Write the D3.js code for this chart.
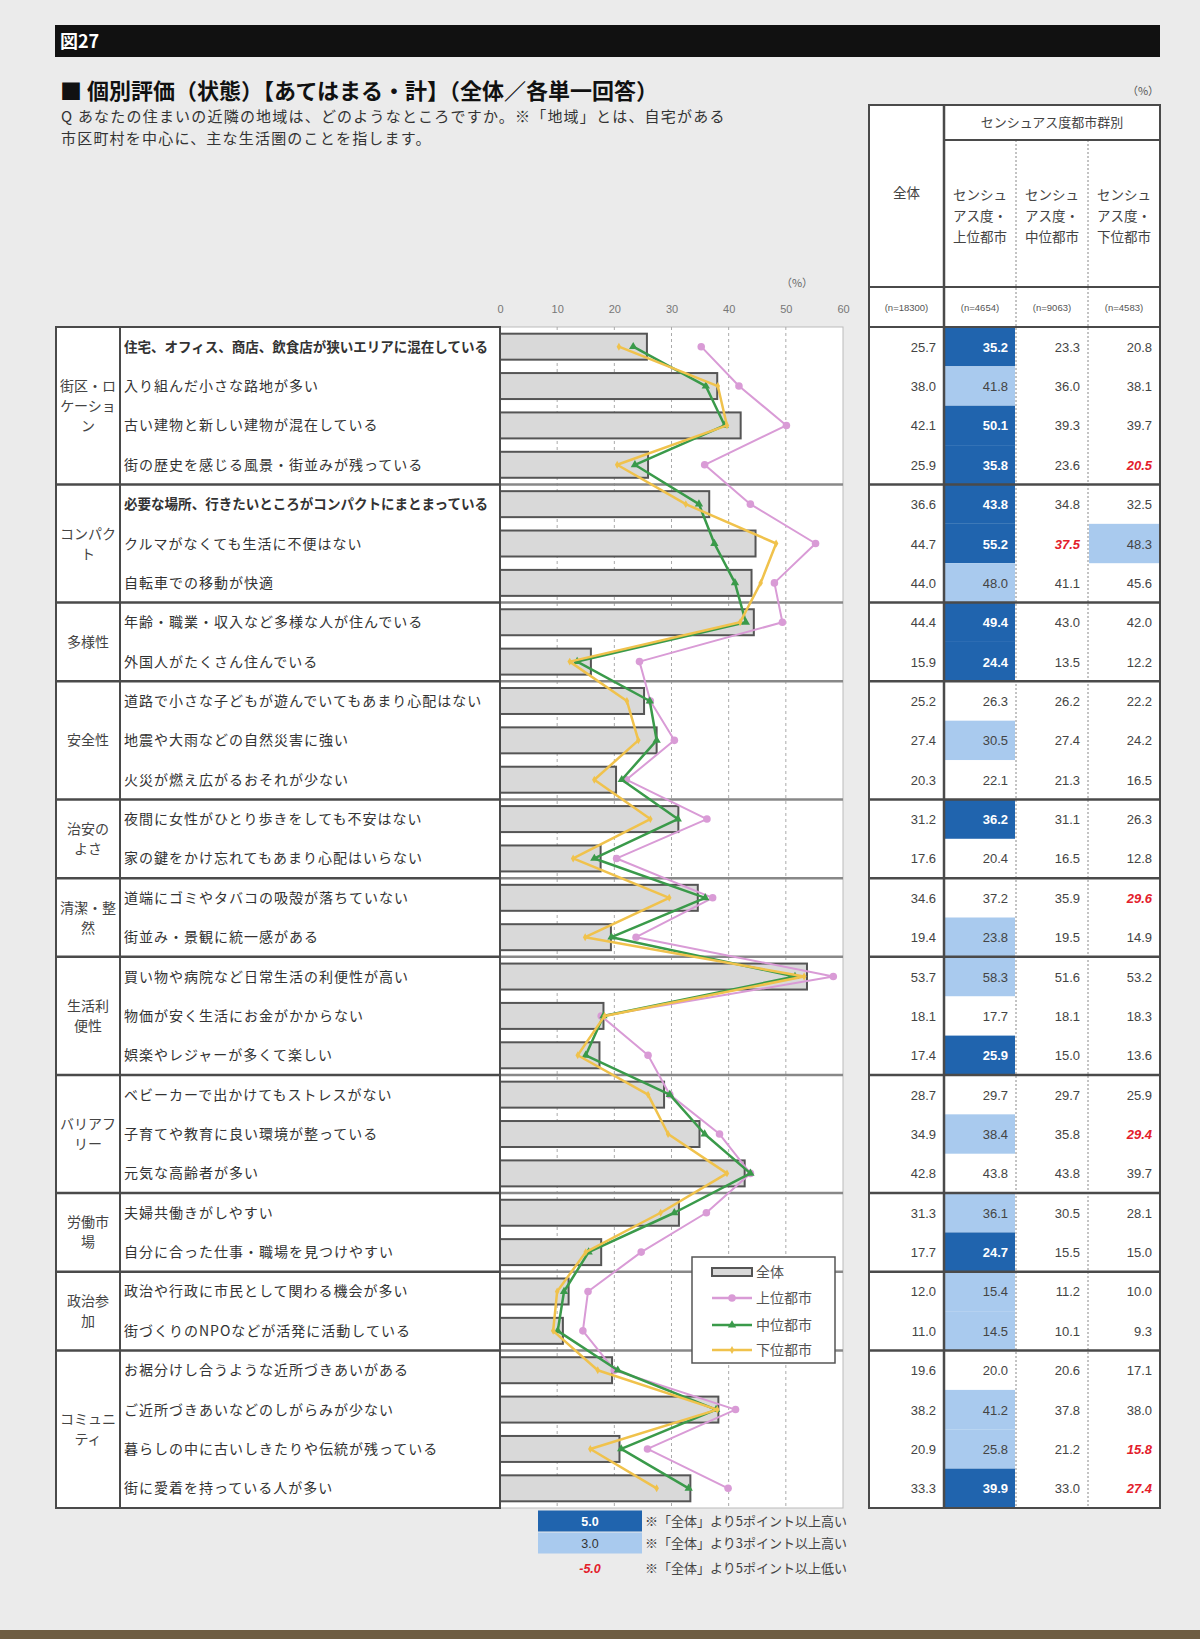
<!DOCTYPE html>
<html>
<head>
<meta charset="utf-8">
<script src="https://cdn.jsdelivr.net/npm/d3@7"></script>
<style>
  body { margin: 0; background: #ebebeb; }
  svg { display: block; font-family: 'Noto Sans CJK JP', sans-serif; }
</style>
</head>
<body>
<svg id="chart" width="1200" height="1639"></svg>
<script>
// グループ（左端の分類）
const groupLabels = [
    ["街区・ロ", "ケーショ", "ン"],
    ["コンパク", "ト"],
    ["多様性"],
    ["安全性"],
    ["治安の", "よさ"],
    ["清潔・整", "然"],
    ["生活利", "便性"],
    ["バリアフ", "リー"],
    ["労働市", "場"],
    ["政治参", "加"],
    ["コミュニ", "ティ"]
];
const groupSizes = [4, 3, 2, 3, 2, 2, 3, 3, 2, 2, 4];

// 評価項目
const items = [
    "住宅、オフィス、商店、飲食店が狭いエリアに混在している",
    "入り組んだ小さな路地が多い",
    "古い建物と新しい建物が混在している",
    "街の歴史を感じる風景・街並みが残っている",
    "必要な場所、行きたいところがコンパクトにまとまっている",
    "クルマがなくても生活に不便はない",
    "自転車での移動が快適",
    "年齢・職業・収入など多様な人が住んでいる",
    "外国人がたくさん住んでいる",
    "道路で小さな子どもが遊んでいてもあまり心配はない",
    "地震や大雨などの自然災害に強い",
    "火災が燃え広がるおそれが少ない",
    "夜間に女性がひとり歩きをしても不安はない",
    "家の鍵をかけ忘れてもあまり心配はいらない",
    "道端にゴミやタバコの吸殻が落ちていない",
    "街並み・景観に統一感がある",
    "買い物や病院など日常生活の利便性が高い",
    "物価が安く生活にお金がかからない",
    "娯楽やレジャーが多くて楽しい",
    "ベビーカーで出かけてもストレスがない",
    "子育てや教育に良い環境が整っている",
    "元気な高齢者が多い",
    "夫婦共働きがしやすい",
    "自分に合った仕事・職場を見つけやすい",
    "政治や行政に市民として関わる機会が多い",
    "街づくりのNPOなどが活発に活動している",
    "お裾分けし合うような近所づきあいがある",
    "ご近所づきあいなどのしがらみが少ない",
    "暮らしの中に古いしきたりや伝統が残っている",
    "街に愛着を持っている人が多い"
];
const boldItems = [0, 4];

// 値（%）
const total  = [25.7, 38.0, 42.1, 25.9, 36.6, 44.7, 44.0, 44.4, 15.9, 25.2, 27.4, 20.3, 31.2, 17.6, 34.6, 19.4, 53.7, 18.1, 17.4, 28.7, 34.9, 42.8, 31.3, 17.7, 12.0, 11.0, 19.6, 38.2, 20.9, 33.3];
const upper  = [35.2, 41.8, 50.1, 35.8, 43.8, 55.2, 48.0, 49.4, 24.4, 26.3, 30.5, 22.1, 36.2, 20.4, 37.2, 23.8, 58.3, 17.7, 25.9, 29.7, 38.4, 43.8, 36.1, 24.7, 15.4, 14.5, 20.0, 41.2, 25.8, 39.9];
const middle = [23.3, 36.0, 39.3, 23.6, 34.8, 37.5, 41.1, 43.0, 13.5, 26.2, 27.4, 21.3, 31.1, 16.5, 35.9, 19.5, 51.6, 18.1, 15.0, 29.7, 35.8, 43.8, 30.5, 15.5, 11.2, 10.1, 20.6, 37.8, 21.2, 33.0];
const lower  = [20.8, 38.1, 39.7, 20.5, 32.5, 48.3, 45.6, 42.0, 12.2, 22.2, 24.2, 16.5, 26.3, 12.8, 29.6, 14.9, 53.2, 18.3, 13.6, 25.9, 29.4, 39.7, 28.1, 15.0, 10.0,  9.3, 17.1, 38.0, 15.8, 27.4];

const xTicks = [0, 10, 20, 30, 40, 50, 60];
const seriesNames = ["全体", "上位都市", "中位都市", "下位都市"];
const colHeaders = [["全体"], ["センシュ", "アス度・", "上位都市"], ["センシュ", "アス度・", "中位都市"], ["センシュ", "アス度・", "下位都市"]];
const sampleSizes = ["(n=18300)", "(n=4654)", "(n=9063)", "(n=4583)"];

const svg = d3.select("#chart");
const numFont = "'Liberation Sans', Arial, sans-serif";

// 領域
const plotTop = 327, plotBottom = 1508;
const tabL = 56, catR = 120, plotL = 500, plotR = 843;
const colX = [869, 944, 1016, 1088, 1160];

const colors = { bar: "#d9d9d9", barStroke: "#555", upper: "#d99bd6", middle: "#3a9a4a", lower: "#f0c24c",
                 dark: "#2064ae", light: "#a9caee", red: "#e3202b", line: "#4a4a4a" };

// 背景
svg.append("rect").attr("width", 1200).attr("height", 1639).attr("fill", "#ebebeb");
svg.append("rect").attr("x", 0).attr("y", 1630).attr("width", 1200).attr("height", 9).attr("fill", "#6e5d42");

// 見出しバー
svg.append("rect").attr("x", 55).attr("y", 25).attr("width", 1105).attr("height", 32).attr("fill", "#111");
svg.append("text").attr("x", 60).attr("y", 48).attr("fill", "#fff").attr("font-weight", "bold")
    .attr("font-size", 18).text("図27");

svg.append("text").attr("x", 60).attr("y", 99).attr("font-size", 22).attr("font-weight", "bold")
    .attr("fill", "#111").text("■ 個別評価（状態）【あてはまる・計】（全体／各単一回答）");
svg.append("text").attr("x", 61).attr("y", 122).attr("font-size", 15).attr("letter-spacing", 1.2)
    .attr("fill", "#333").text("Q あなたの住まいの近隣の地域は、どのようなところですか。※「地域」とは、自宅がある");
svg.append("text").attr("x", 61).attr("y", 144).attr("font-size", 15).attr("letter-spacing", 1.2)
    .attr("fill", "#333").text("市区町村を中心に、主な生活圏のことを指します。");

// スケール
const rowScale = d3.scaleBand().domain(d3.range(items.length)).range([plotTop, plotBottom]);
const rowC = i => rowScale(i) + rowScale.bandwidth() / 2;
const x = d3.scaleLinear().domain([0, 60]).range([plotL, plotR]);

// グループ境界
let starts = [], acc = 0;
groupSizes.forEach(n => { starts.push(acc); acc += n; });

// 白地
svg.append("rect").attr("x", tabL).attr("y", plotTop).attr("width", plotL - tabL).attr("height", plotBottom - plotTop).attr("fill", "#fff");
svg.append("rect").attr("x", plotL).attr("y", plotTop).attr("width", plotR - plotL).attr("height", plotBottom - plotTop)
    .attr("fill", "#fff").attr("stroke", "#bbb");
svg.append("rect").attr("x", colX[0]).attr("y", 105).attr("width", colX[4] - colX[0]).attr("height", plotBottom - 105).attr("fill", "#fff");

// グリッド
svg.append("g").selectAll("line").data(xTicks.slice(1, -1)).join("line")
    .attr("x1", d => x(d)).attr("x2", d => x(d)).attr("y1", plotTop).attr("y2", plotBottom)
    .attr("stroke", "#aaa").attr("stroke-dasharray", "3,3");

// 軸
const axis = svg.append("g").attr("transform", `translate(0, ${plotTop - 14})`)
    .call(d3.axisTop(x).tickValues(xTicks).tickSize(0).tickPadding(0));
axis.select(".domain").remove();
axis.selectAll("text").attr("font-size", 11).attr("fill", "#777").attr("font-family", numFont);
svg.append("text").attr("x", 797).attr("y", 287).attr("text-anchor", "middle").attr("font-size", 11)
    .attr("fill", "#666").text("（%）");

// 棒（全体）
const barH = rowScale.bandwidth() * 0.66;
svg.append("g").selectAll("rect").data(total).join("rect")
    .attr("x", x(0)).attr("y", (d, i) => rowC(i) - barH / 2)
    .attr("width", d => x(d) - x(0)).attr("height", barH)
    .attr("fill", colors.bar).attr("stroke", colors.barStroke).attr("stroke-width", 2);

// グループ区切り線
const sepY = starts.slice(1).map(s => rowScale(s));
svg.append("g").selectAll("line").data(sepY).join("line")
    .attr("x1", plotL).attr("x2", plotR).attr("y1", d => d).attr("y2", d => d)
    .attr("stroke", "#888").attr("stroke-width", 2.5);
svg.append("g").selectAll("line").data(sepY).join("line")
    .attr("x1", tabL).attr("x2", plotL).attr("y1", d => d).attr("y2", d => d)
    .attr("stroke", colors.line).attr("stroke-width", 2.5);

// 折れ線
const line = d3.line().x(d => x(d)).y((d, i) => rowC(i));
function drawSeries(values, color, width, symbol, size) {
    svg.append("path").datum(values).attr("d", line).attr("fill", "none")
        .attr("stroke", color).attr("stroke-width", width).attr("stroke-linejoin", "round");
    svg.append("g").selectAll("path").data(values).join("path")
        .attr("transform", (d, i) => `translate(${x(d)}, ${rowC(i)})`)
        .attr("d", d3.symbol().type(symbol).size(size)).attr("fill", color);
}
drawSeries(upper, colors.upper, 2, d3.symbolCircle, 45);
drawSeries(middle, colors.middle, 2.5, d3.symbolTriangle, 30);
drawSeries(lower, colors.lower, 2.5, d3.symbolDiamond, 18);

// 左の表
svg.append("rect").attr("x", tabL).attr("y", plotTop).attr("width", plotL - tabL).attr("height", plotBottom - plotTop)
    .attr("fill", "none").attr("stroke", colors.line).attr("stroke-width", 2);
svg.append("line").attr("x1", catR).attr("x2", catR).attr("y1", plotTop).attr("y2", plotBottom)
    .attr("stroke", colors.line).attr("stroke-width", 2);

groupLabels.forEach((lines, g) => {
    const y0 = rowScale(starts[g]);
    const y1 = rowScale(starts[g] + groupSizes[g] - 1) + rowScale.bandwidth();
    const cy = (y0 + y1) / 2 - (lines.length - 1) * 10;
    svg.append("text").attr("text-anchor", "middle").attr("font-size", 14).attr("fill", "#444")
        .selectAll("tspan").data(lines).join("tspan")
        .attr("x", (tabL + catR) / 2).attr("y", (d, i) => cy + i * 20 + 5).text(d => d);
});

svg.append("g").selectAll("text").data(items).join("text")
    .attr("x", catR + 4).attr("y", (d, i) => rowC(i) + 5)
    .attr("font-size", 14).attr("fill", "#333")
    .attr("letter-spacing", (d, i) => boldItems.includes(i) ? 0 : 1)
    .attr("font-weight", (d, i) => boldItems.includes(i) ? "bold" : null)
    .each(function(d, i) {
        if (boldItems.includes(i)) d3.select(this).attr("textLength", 364).attr("lengthAdjust", "spacingAndGlyphs");
    })
    .text(d => d);

// 凡例（グラフ内）
const lg = svg.append("g").attr("transform", "translate(692, 1257)");
lg.append("rect").attr("width", 143).attr("height", 106).attr("fill", "#fff").attr("stroke", "#555").attr("stroke-width", 1.5);
const lgY = [15, 41, 68, 93];
lg.append("rect").attr("x", 20).attr("y", lgY[0] - 4).attr("width", 40).attr("height", 8)
    .attr("fill", colors.bar).attr("stroke", colors.barStroke).attr("stroke-width", 2);
[[colors.upper, d3.symbolCircle, 45], [colors.middle, d3.symbolTriangle, 30], [colors.lower, d3.symbolDiamond, 18]]
    .forEach(([c, s, sz], k) => {
        lg.append("line").attr("x1", 20).attr("x2", 60).attr("y1", lgY[k + 1]).attr("y2", lgY[k + 1])
            .attr("stroke", c).attr("stroke-width", 2.5);
        lg.append("path").attr("transform", `translate(40, ${lgY[k + 1]})`)
            .attr("d", d3.symbol().type(s).size(sz)).attr("fill", c);
    });
lg.selectAll("text").data(seriesNames).join("text")
    .attr("x", 64).attr("y", (d, i) => lgY[i] + 5).attr("font-size", 14).attr("fill", "#555").text(d => d);

// 右の表
const tableVals = [total, upper, middle, lower];
function cellStyle(c, i) {
    if (c === 0) return null;
    const diff = Math.round((tableVals[c][i] - total[i]) * 10) / 10;
    if (diff >= 5) return "dark";
    if (diff >= 3) return "light";
    if (diff <= -5) return "red";
    return null;
}
for (let c = 0; c < 4; c++) {
    items.forEach((d, i) => {
        const st = cellStyle(c, i);
        if (st === "dark" || st === "light") {
            svg.append("rect").attr("x", colX[c] + 1).attr("y", rowScale(i)).attr("width", colX[c + 1] - colX[c] - 2)
                .attr("height", rowScale.bandwidth()).attr("fill", st === "dark" ? colors.dark : colors.light);
        }
        svg.append("text").attr("x", colX[c + 1] - 8).attr("y", rowC(i) + 5).attr("text-anchor", "end")
            .attr("font-family", numFont).attr("font-size", 13)
            .attr("fill", st === "dark" ? "#fff" : st === "red" ? colors.red : "#444")
            .attr("font-weight", st === "dark" || st === "red" ? "bold" : null)
            .attr("font-style", st === "red" ? "italic" : null)
            .text(tableVals[c][i].toFixed(1));
    });
}

// 表の枠
svg.append("rect").attr("x", colX[0]).attr("y", 105).attr("width", colX[4] - colX[0]).attr("height", plotBottom - 105)
    .attr("fill", "none").attr("stroke", colors.line).attr("stroke-width", 2);
svg.append("line").attr("x1", colX[1]).attr("x2", colX[1]).attr("y1", 105).attr("y2", plotBottom)
    .attr("stroke", colors.line).attr("stroke-width", 2.5);
[colX[2], colX[3]].forEach(xx => svg.append("line").attr("x1", xx).attr("x2", xx).attr("y1", 140).attr("y2", plotBottom)
    .attr("stroke", "#888").attr("stroke-dasharray", "2,2"));
svg.append("line").attr("x1", colX[1]).attr("x2", colX[4]).attr("y1", 140).attr("y2", 140).attr("stroke", colors.line).attr("stroke-width", 2);
[287, plotTop].forEach(yy => svg.append("line").attr("x1", colX[0]).attr("x2", colX[4]).attr("y1", yy).attr("y2", yy)
    .attr("stroke", colors.line).attr("stroke-width", 2));
svg.append("g").selectAll("line").data(sepY).join("line")
    .attr("x1", colX[0]).attr("x2", colX[4]).attr("y1", d => d).attr("y2", d => d)
    .attr("stroke", colors.line).attr("stroke-width", 2.5);

svg.append("text").attr("x", (colX[1] + colX[4]) / 2).attr("y", 127).attr("text-anchor", "middle")
    .attr("font-size", 13).attr("fill", "#444").text("センシュアス度都市群別");
colHeaders.forEach((lines, c) => {
    const cy = c === 0 ? 198 : 200;
    svg.append("text").attr("text-anchor", "middle").attr("font-size", 13.5).attr("fill", "#444")
        .selectAll("tspan").data(lines).join("tspan")
        .attr("x", (colX[c] + colX[c + 1]) / 2).attr("y", (d, i) => cy + i * 21).text(d => d);
});
svg.append("g").selectAll("text").data(sampleSizes).join("text")
    .attr("x", (d, i) => (colX[i] + colX[i + 1]) / 2).attr("y", 311).attr("text-anchor", "middle")
    .attr("font-family", numFont).attr("font-size", 9.5).attr("fill", "#555").text(d => d);
svg.append("text").attr("x", 1143).attr("y", 95).attr("text-anchor", "middle").attr("font-size", 11)
    .attr("fill", "#555").text("（%）");

// 下の凡例
const notes = [
    { v: "5.0", fill: colors.dark, color: "#fff", y: 1521, text: "※「全体」より5ポイント以上高い" },
    { v: "3.0", fill: colors.light, color: "#333", y: 1543, text: "※「全体」より3ポイント以上高い" },
    { v: "-5.0", fill: null, color: colors.red, y: 1568, text: "※「全体」より5ポイント以上低い" }
];
notes.forEach(n => {
    if (n.fill) svg.append("rect").attr("x", 538).attr("y", n.y - 10.5).attr("width", 104).attr("height", 21).attr("fill", n.fill);
    svg.append("text").attr("x", 590).attr("y", n.y + 5).attr("text-anchor", "middle").attr("font-family", numFont)
        .attr("font-size", 12.5).attr("fill", n.color)
        .attr("font-weight", n.v === "3.0" ? null : "bold").attr("font-style", n.fill ? null : "italic").text(n.v);
    svg.append("text").attr("x", 645).attr("y", n.y + 5).attr("font-size", 13).attr("fill", "#444").text(n.text);
});
</script>
</body>
</html>
